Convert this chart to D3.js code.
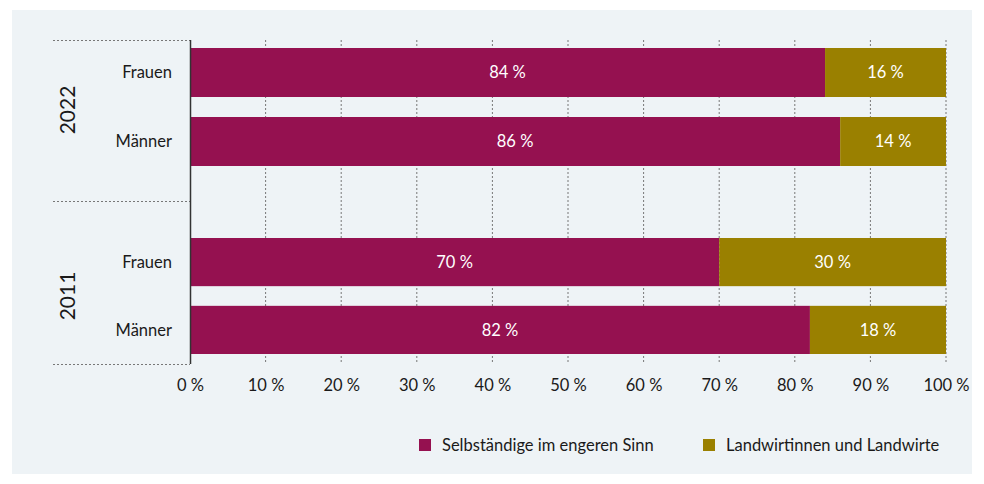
<!DOCTYPE html>
<html><head><meta charset="utf-8">
<script src="https://cdn.jsdelivr.net/npm/d3@7"></script>
<style>
html,body{margin:0;padding:0;background:#fff;}
svg{display:block;font-family:Lato, "Open Sans", sans-serif;}
</style></head>
<body><svg id="c" width="984" height="484"></svg>
<script>
const years = ["2022", "2011"];
const genders = ["Frauen", "Männer"];
const seriesNames = ["Selbständige im engeren Sinn", "Landwirtinnen und Landwirte"];
const selbst = [84, 86, 70, 82];   // 2022 F, 2022 M, 2011 F, 2011 M
const landw = [16, 14, 30, 18];
const tickValues = [0,10,20,30,40,50,60,70,80,90,100];
const colors = ["#951150", "#9a8000"];

const rows = [];
years.forEach((y, gi) => genders.forEach((g, j) => {
  const i = gi * 2 + j;
  rows.push({year: y, gender: g, values: [selbst[i], landw[i]]});
}));

const svg = d3.select("#c");
svg.append("rect").attr("x",12).attr("y",10).attr("width",960).attr("height",464).attr("fill","#eef3f6");

const x = d3.scaleLinear().domain([0,100]).range([190,946]);
const yTop = 40, yMid = 201, yBottom = 364;
const groupRange = {"2022":[48,166], "2011":[238,354]};
const inner = {};
years.forEach(y => inner[y] = d3.scaleBand().domain(genders).range(groupRange[y]).paddingInner(0.29));

const FS = 16.5;

// grid
svg.append("g").selectAll("line").data(tickValues.slice(1)).join("line")
  .attr("x1", d=>x(d)).attr("x2", d=>x(d)).attr("y1", yTop).attr("y2", yBottom)
  .attr("stroke","#777").attr("stroke-width",1).attr("stroke-dasharray","2,2");

// separators
svg.append("g").selectAll("line").data([yTop, yMid, yBottom]).join("line")
  .attr("x1",53).attr("x2",190).attr("y1",d=>d+0.5).attr("y2",d=>d+0.5)
  .attr("stroke","#777").attr("stroke-width",1).attr("stroke-dasharray","2,2");

// bars
const rowG = svg.append("g").selectAll("g").data(rows).join("g");
rowG.each(function(r){
  const g = d3.select(this);
  const yb = inner[r.year](r.gender), bh = inner[r.year].bandwidth();
  let acc = 0;
  r.values.forEach((v, k) => {
    g.append("rect").attr("x", x(acc)).attr("width", x(acc+v)-x(acc))
      .attr("y", yb).attr("height", bh).attr("fill", colors[k]);
    g.append("text").attr("x", (x(acc)+x(acc+v))/2).attr("y", yb+bh/2)
      .attr("dy","0.35em").attr("text-anchor","middle").attr("fill","#fff")
      .attr("font-size",FS).text(v + " %");
    acc += v;
  });
  g.append("text").attr("x",172).attr("y",yb+bh/2).attr("dy","0.35em")
    .attr("text-anchor","end").attr("fill","#1a1a1a").attr("font-size",FS).text(r.gender);
});

// axis line
svg.append("line").attr("x1",190.5).attr("x2",190.5).attr("y1",yTop).attr("y2",yBottom)
  .attr("stroke","#333").attr("stroke-width",1.5);

// year labels
years.forEach(y => {
  const cy = y === "2022" ? 110 : 296;
  svg.append("text").attr("transform",`translate(75,${cy}) rotate(-90)`)
    .attr("text-anchor","middle").attr("font-size",21).attr("fill","#1a1a1a").text(y);
});

// x axis
const xAxis = d3.axisBottom(x).tickValues(tickValues).tickSize(0).tickPadding(0)
  .tickFormat(d => d + " %");
const ax = svg.append("g").attr("transform",`translate(0,${yBottom})`).call(xAxis);
ax.select(".domain").remove();
ax.selectAll("text").attr("font-size",FS).attr("fill","#1a1a1a").attr("y",15)
  .attr("font-family","Lato, 'Open Sans', sans-serif");

// legend
const legX = [419, 703];
seriesNames.forEach((n,i) => {
  svg.append("rect").attr("x",legX[i]).attr("y",439).attr("width",12).attr("height",12).attr("fill",colors[i]);
  svg.append("text").attr("x",legX[i]+23).attr("y",445).attr("dy","0.35em")
    .attr("font-size",FS).attr("fill","#1a1a1a").text(n);
});
</script></body></html>
